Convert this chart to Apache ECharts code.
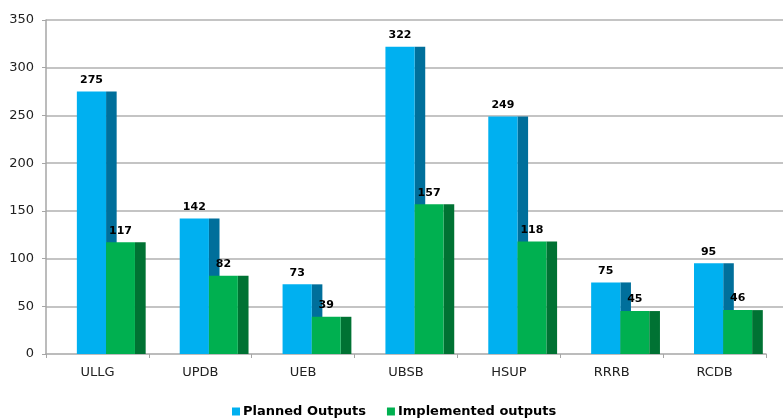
<!DOCTYPE html>
<html>
<head>
<meta charset="utf-8">
<script src="https://cdn.jsdelivr.net/npm/echarts@6/dist/echarts.min.js"></script>
<style>
  html, body { margin: 0; padding: 0; background: #fff; }
  #chart { width: 783px; height: 419px; }
</style>
</head>
<body>
<div id="chart"></div>
<script>
// 数据
var categories = ['ULLG', 'UPDB', 'UEB', 'UBSB', 'HSUP', 'RRRB', 'RCDB'];
var planned = [275, 142, 73, 322, 249, 75, 95];
var implemented = [117, 82, 39, 157, 118, 45, 46];
var yTicks = [0, 50, 100, 150, 200, 250, 300, 350];

var myChart = echarts.init(document.getElementById('chart'));

// 伪3D柱子：正面 + 右侧暗面
function make3dBar(start, frontW, sideW, frontColor, sideColor) {
    return function (params, api) {
        var idx = api.value(0);
        var val = api.value(1);
        var base = api.coord([idx, 0]);
        var top = api.coord([idx, val]);
        var bw = api.size([1, 0])[0];
        var x0 = base[0] + start * bw;
        var fw = frontW * bw;
        var sw = sideW * bw;
        var h = base[1] - top[1];
        return {
            type: 'group',
            children: [
                {
                    type: 'rect',
                    shape: { x: x0 + fw, y: top[1], width: sw, height: h },
                    style: { fill: sideColor, stroke: null, lineWidth: 0 }
                },
                {
                    type: 'rect',
                    shape: { x: x0, y: top[1], width: fw, height: h },
                    style: { fill: frontColor, stroke: null, lineWidth: 0 },
                    textContent: {
                        style: {
                            text: String(val),
                            font: 'bold 11px "DejaVu Sans"',
                            fill: '#000',
                            stroke: null,
                            lineWidth: 0
                        }
                    },
                    textConfig: { position: 'top', distance: 6, outsideStroke: null, outsideFill: '#000' }
                }
            ]
        };
    };
}

function toData(arr) {
    return arr.map(function (v, i) { return [i, v]; });
}

// 网格线一直画到右边缘（底部0线除外），用第二个grid
var plotH = 419 - 20 - 65;
var gridTop = 20;

var option = {
    animation: false,
    grid: [
        { left: 46, right: 17, top: gridTop, bottom: 65 },
        { left: 46, right: 0, top: gridTop, bottom: 65 + plotH * yTicks[1] / yTicks[yTicks.length - 1] }
    ],
    legend: {
        left: 227,
        top: 400,
        itemWidth: 8,
        itemHeight: 8,
        itemGap: 21,
        textStyle: { fontFamily: 'DejaVu Sans', fontWeight: 'bold', fontSize: 13, color: '#000', padding: [0, 0, 0, -2] },
        data: [
            { name: 'Planned Outputs', icon: 'rect', itemStyle: { color: '#00b0f0' } },
            { name: 'Implemented outputs', icon: 'rect', itemStyle: { color: '#00b050' } }
        ]
    },
    xAxis: [
        {
            type: 'category',
            gridIndex: 0,
            data: categories,
            axisLine: { lineStyle: { color: '#a6a6a6', width: 1.5 } },
            axisTick: { show: true, length: 4, lineStyle: { color: '#a6a6a6' } },
            axisLabel: { fontFamily: 'DejaVu Sans', fontSize: 13, color: '#222', margin: 12 }
        },
        { type: 'value', gridIndex: 1, show: false, min: 0, max: 1 }
    ],
    yAxis: [
        {
            type: 'value',
            gridIndex: 0,
            min: yTicks[0],
            max: yTicks[yTicks.length - 1],
            interval: yTicks[1] - yTicks[0],
            axisLine: { show: true, lineStyle: { color: '#a6a6a6', width: 1.5 } },
            axisTick: { show: true, length: 4, lineStyle: { color: '#a6a6a6' } },
            axisLabel: { fontFamily: 'DejaVu Sans', fontSize: 13, color: '#222', margin: 12 },
            splitLine: { show: false }
        },
        {
            type: 'value',
            gridIndex: 1,
            min: yTicks[1],
            max: yTicks[yTicks.length - 1],
            interval: yTicks[1] - yTicks[0],
            axisLine: { show: false },
            axisTick: { show: false },
            axisLabel: { show: false },
            splitLine: { show: true, lineStyle: { color: '#b0b0b0', width: 1.5 } }
        }
    ],
    series: [
        {
            name: 'Planned Outputs',
            type: 'custom',
            xAxisIndex: 0,
            yAxisIndex: 0,
            itemStyle: { color: '#00b0f0' },
            renderItem: make3dBar(-0.2, 0.284, 0.103, '#00b0f0', '#006f9b'),
            data: toData(planned),
            z: 2
        },
        {
            name: 'Implemented outputs',
            type: 'custom',
            xAxisIndex: 0,
            yAxisIndex: 0,
            itemStyle: { color: '#00b050' },
            renderItem: make3dBar(0.084, 0.281, 0.104, '#00b050', '#007233'),
            data: toData(implemented),
            z: 3
        }
    ]
};

myChart.setOption(option);
</script>
</body>
</html>
